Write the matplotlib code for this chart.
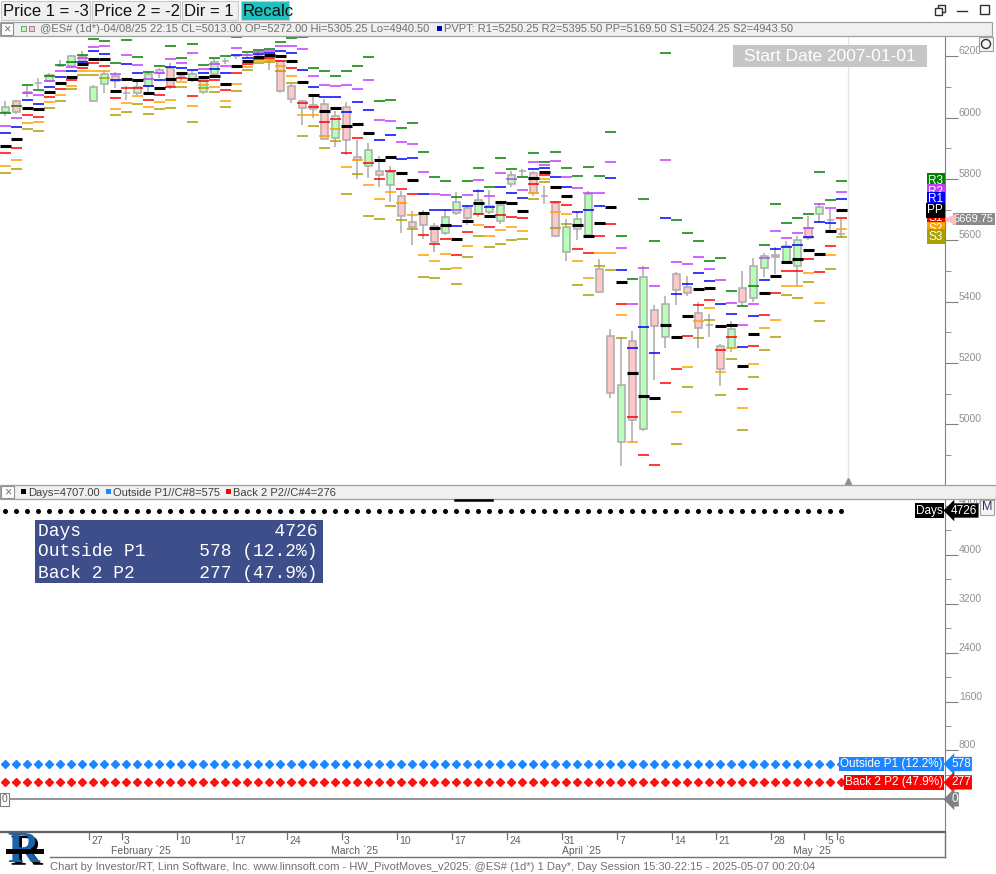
import numpy as np
import matplotlib
matplotlib.use("Agg")
import matplotlib.pyplot as plt
import matplotlib.transforms as mtrans
import matplotlib.patheffects as pe
from matplotlib.patches import Rectangle, Circle

plt.rcParams['font.family'] = ['Liberation Sans', 'DejaVu Sans']

W, H = 996, 874

# daily bars of @ES# (mid Jan 2025 .. 6 May 2025)
opens = [6020, 6053, 6082, 6113, 6120, 6170, 6170, 6201, 6053, 6111,
         6137, 6081, 6079, 6103, 6156, 6163, 6135, 6122, 6085, 6141,
         6185, 6200, 6203, 6201, 6200, 6185, 6102, 6053, 6040, 6046,
         5934, 6036, 5872, 5841, 5825, 5779, 5744, 5659, 5690, 5647,
         5624, 5689, 5706, 5687, 5693, 5663, 5784, 5825, 5819, 5743,
         5722, 5562, 5636, 5616, 5507, 5289, 4941, 5272, 4984, 5371,
         5283, 5491, 5446, 5364, 5323, 5254, 5247, 5445, 5413, 5510,
         5553, 5530, 5517, 5639, 5686, 5665, 5620]
highs = [6054, 6057, 6102, 6131, 6146, 6187, 6206, 6216, 6108, 6157,
         6148, 6102, 6120, 6151, 6163, 6178, 6146, 6152, 6133, 6192,
         6196, 6206, 6210, 6219, 6206, 6187, 6111, 6059, 6070, 6060,
         6022, 6050, 5927, 5919, 5875, 5842, 5761, 5696, 5699, 5656,
         5699, 5758, 5716, 5768, 5764, 5721, 5825, 5833, 5827, 5777,
         5729, 5670, 5697, 5760, 5538, 5312, 5283, 5305, 5516, 5388,
         5417, 5495, 5482, 5398, 5359, 5261, 5335, 5499, 5541, 5558,
         5578, 5597, 5615, 5678, 5723, 5702, 5670]
lows = [6006, 6013, 6068, 6092, 6116, 6165, 6167, 6176, 6051, 6079,
        6097, 6057, 6073, 6084, 6131, 6093, 6120, 6115, 6077, 6133,
        6176, 6192, 6196, 6187, 6157, 6079, 6048, 5976, 5999, 5927,
        5905, 5878, 5799, 5804, 5775, 5726, 5625, 5586, 5603, 5561,
        5616, 5684, 5651, 5675, 5686, 5654, 5775, 5811, 5744, 5717,
        5610, 5531, 5600, 5610, 5428, 5087, 4865, 4940, 4978, 5144,
        5249, 5390, 5418, 5249, 5285, 5126, 5236, 5385, 5397, 5480,
        5491, 5524, 5453, 5602, 5662, 5632, 5608]
closes = [6036, 6017, 6083, 6113, 6140, 6170, 6202, 6185, 6101, 6144,
          6121, 6081, 6100, 6141, 6147, 6103, 6135, 6144, 6124, 6183,
          6185, 6200, 6203, 6199, 6189, 6087, 6061, 6032, 6029, 5931,
          6007, 5926, 5863, 5896, 5812, 5823, 5679, 5643, 5651, 5596,
          5676, 5725, 5673, 5732, 5712, 5715, 5813, 5825, 5755, 5743,
          5613, 5644, 5670, 5751, 5430, 5103, 5127, 5013, 5481, 5319,
          5393, 5439, 5429, 5315, 5323, 5179, 5312, 5400, 5517, 5549,
          5546, 5582, 5601, 5608, 5709, 5665, 5620]

# two bars before the window, needed for the pivots of the first bars
pre_highs = [5933, 5961]
pre_lows = [5868, 5892]
pre_closes = [5926, 5940]

tick_bars = [8, 11, 16, 21, 26, 31, 36, 41, 46, 51, 56, 61, 65, 70, 73, 75, 76]
tick_labels = ['27', '3', '10', '17', '24', '3', '10', '17', '24', '31',
               '7', '14', '21', '28', '', '5', '6']
month_bars = [11, 31, 52, 73]
month_labels = ['February `25', 'March `25', 'April `25', 'May `25']

days_total = 4726
outside_p1 = 578
back2_p2 = 277
outside_pct = 12.2
back2_pct = 47.9
last_price = 5669.75

# ---------------------------------------------------------------
BAR_PX = 11.0
FIRST_PX = 5.3
AX_RIGHT = 945

fig = plt.figure(figsize=(W / 100, H / 100), dpi=100)


def px_axes(x0, y0, x1, y1, z=1):
    return fig.add_axes([x0 / W, 1 - y1 / H, (x1 - x0) / W, (y1 - y0) / H], zorder=z)


xlim = ((0 - FIRST_PX) / BAR_PX, (AX_RIGHT - FIRST_PX) / BAR_PX)
n = len(opens)
xs = np.arange(n)
o = np.array(opens, float)
hi = np.array(highs, float)
lo = np.array(lows, float)
c = np.array(closes, float)

gray_txt = '#909090'

# ------------------------- price panel -------------------------
ax = px_axes(0, 37, AX_RIGHT, 485)
ax.set_xlim(*xlim)
ax.set_ylim(4801.5, 6263.3)
for s in ['left', 'top', 'bottom']:
    ax.spines[s].set_visible(False)
ax.spines['right'].set_color('#808080')
ax.yaxis.tick_right()
ax.set_xticks([])
ax.set_yticks(np.arange(5000, 6201, 200))
ax.set_yticks(np.arange(4900, 6300, 100), minor=True)
ax.tick_params(axis='y', which='major', length=9, color='#808080', labelsize=7.5,
               labelcolor=gray_txt, pad=1)
ax.tick_params(axis='y', which='minor', length=4, color='#808080')
for lab in ax.get_yticklabels():
    lab.set_verticalalignment('bottom')

ax.axvline(n - 1 + 0.6, color='#e4e4e4', lw=1, zorder=0)
ax.plot([n - 1 + 0.6], [0.01], marker='^', ms=5, color='#909090',
        transform=mtrans.blended_transform_factory(ax.transData, ax.transAxes), clip_on=False)

# candles
up = c >= o
ax.vlines(xs, lo, hi, color='#ababab', lw=1.1, zorder=2)
ax.bar(xs, np.abs(c - o), bottom=np.minimum(o, c), width=0.68,
       color=np.where(up, '#b6ffb6', '#ffc8c8'), edgecolor='#ababab', lw=1.1, zorder=3)

# pivot levels (from the bar two places back, as the study draws them)
hh = np.array(pre_highs + highs, float)[:n]
ll = np.array(pre_lows + lows, float)[:n]
cc = np.array(pre_closes + closes, float)[:n]
pp = (hh + ll + cc) / 3
levels = {
    'R3': (hh + 2 * (pp - ll), '#008000'),
    'R2': (pp + (hh - ll), '#c33cff'),
    'R1': (2 * pp - ll, '#0000ff'),
    'S1': (2 * pp - hh, '#ff0000'),
    'S2': (pp - (hh - ll), '#ffa000'),
    'S3': (ll - 2 * (hh - pp), '#aaa000'),
    'PP': (pp, '#000000'),
}
for name, (vals, col) in levels.items():
    ax.hlines(vals, xs - 0.5, xs + 0.5, color=col,
              lw=2.2 if name == 'PP' else 1.1, zorder=4)

lbl_tr = mtrans.blended_transform_factory(ax.transAxes, ax.transData)
for k, name in enumerate(['R3', 'R2', 'R1', 'S1', 'S2', 'S3', 'PP']):
    vals, col = levels[name]
    ax.text(0.998, vals[-1], name, transform=lbl_tr, ha='right', va='center',
            color='white', fontsize=8.5, zorder=10 + k, clip_on=False,
            bbox=dict(boxstyle='square,pad=0.12', fc=col, ec='none'))

ax.plot([1.0], [last_price], marker='<', ms=7, color='#ffc0c0', transform=mtrans.offset_copy(
    lbl_tr, fig=fig, x=5, units='dots'), clip_on=False, zorder=10)
ax.text(1.0, last_price, f'{last_price:.2f}', transform=mtrans.offset_copy(lbl_tr, fig=fig, x=9, units='dots'),
        ha='left', va='center', color='white', fontsize=8, clip_on=False,
        bbox=dict(boxstyle='square,pad=0.1', fc='#8a8a8a', ec='none'))

# ------------------------- study panel -------------------------
ax2 = px_axes(0, 500, AX_RIGHT, 830)
ax2.set_xlim(*xlim)
ax2.set_ylim(-502, 4898)
for s in ['left', 'top', 'bottom']:
    ax2.spines[s].set_visible(False)
ax2.spines['right'].set_color('#808080')
ax2.yaxis.tick_right()
ax2.set_xticks([])
ax2.set_yticks(np.arange(800, 4801, 800))
ax2.set_yticks(np.arange(400, 4900, 400), minor=True)
ax2.tick_params(axis='y', which='major', length=9, color='#808080', labelsize=7.5,
                labelcolor=gray_txt, pad=1)
ax2.tick_params(axis='y', which='minor', length=4, color='#808080')
for lab in ax2.get_yticklabels():
    lab.set_verticalalignment('bottom')

ax2.axhline(0, color='#808080', lw=1.2)
ax2.plot(xs, [days_total] * n, 'o', ms=2.6, color='black', ls='none')
ax2.plot(xs, [outside_p1] * n, 'D', ms=3.6, color='#1c86ff', ls='none')
ax2.plot(xs, [back2_p2] * n, 'D', ms=3.6, color='#ff1010', ls='none')

tr2 = mtrans.blended_transform_factory(ax2.transAxes, ax2.transData)
for val, name, col in [(days_total, 'Days', '#000000'),
                       (outside_p1, f'Outside P1 ({outside_pct:.1f}%)', '#1c86ff'),
                       (back2_p2, f'Back 2 P2 ({back2_pct:.1f}%)', '#ff0000')]:
    ax2.text(0.998, val, name, transform=tr2, ha='right', va='center', color='white',
             fontsize=8.5, clip_on=False, bbox=dict(boxstyle='square,pad=0.1', fc=col, ec='none'))
    ax2.text(1.0, val, str(val), transform=mtrans.offset_copy(tr2, fig=fig, x=6, units='dots'),
             ha='left', va='center', color='white', fontsize=8.5, clip_on=False,
             bbox=dict(boxstyle='larrow,pad=0.1', fc=col, ec='none'))
ax2.text(1.0, 0, '0', transform=mtrans.offset_copy(tr2, fig=fig, x=6, units='dots'),
         ha='left', va='center', color='white', fontsize=8.5, clip_on=False,
         bbox=dict(boxstyle='larrow,pad=0.1', fc='#808080', ec='none'))
ax2.text(0.002, 0, '0', transform=tr2, ha='left', va='center', color='#606060', fontsize=7.5,
         bbox=dict(boxstyle='square,pad=0.15', fc='white', ec='#808080', lw=0.8))

# ------------------------- date axis -------------------------
ax3 = px_axes(0, 832, AX_RIGHT, 857, z=3)
ax3.set_xlim(*xlim)
ax3.set_ylim(0, 1)
ax3.axis('off')
ax3.add_patch(Rectangle((0, 0), 1, 1, transform=ax3.transAxes, fc='white', ec='none', zorder=0))
ax3.axhline(1, color='#606060', lw=1.6, clip_on=False)
ax3.plot([(50 - FIRST_PX) / BAR_PX, xlim[1]], [0, 0], color='#707070', lw=1, clip_on=False)
ax3.axvline(xlim[1], color='#707070', lw=1, clip_on=False)
tick_off = 4 / BAR_PX
for b, t in zip(tick_bars, tick_labels):
    ax3.plot([b - tick_off] * 2, [1, 0.72], color='#707070', lw=0.9)
    ax3.text(b - tick_off + 0.15, 0.63, t, ha='left', va='center', fontsize=7.5, color='#606060')
for b, t in zip(month_bars, month_labels):
    ax3.text(b - 15 / BAR_PX, 0.24, t, ha='left', va='center', fontsize=7.5, color='#606060')

# ------------------------- chrome on top -------------------------
ov = fig.add_axes([0, 0, 1, 1], zorder=20)
ov.set_xlim(0, W)
ov.set_ylim(H, 0)
ov.axis('off')
ov.patch.set_visible(False)

for x0, x1, label, fc in [(1, 90, 'Price 1 = -3', '#f0f0f0'), (92, 180, 'Price 2 = -2', '#f0f0f0'),
                          (182, 238, 'Dir = 1', '#f0f0f0'), (241, 289, 'Recalc', '#1fc0c0')]:
    ov.add_patch(Rectangle((x0, 1), x1 - x0, 19, fc=fc, ec='#c8c8c8', lw=0.8))
    ov.text(x0 + 2, 11, label, fontsize=12, ha='left', va='center', color='#101010')

# window buttons
ov.add_patch(Rectangle((938, 5), 7, 7, fc='none', ec='#303030', lw=1))
ov.add_patch(Rectangle((935, 8), 7, 7, fc='white', ec='#303030', lw=1))
ov.plot([957, 967], [11, 11], color='#303030', lw=1)
ov.add_patch(Rectangle((980, 5), 9, 9, fc='none', ec='#303030', lw=1))

# price header
ov.add_patch(Rectangle((0, 22), 992, 14, fc='#f0f0f0', ec='#a0a0a0', lw=0.9))
ov.add_patch(Rectangle((1, 23), 12, 12, fc='white', ec='#909090', lw=0.8))
ov.text(7, 29, '×', ha='center', va='center', fontsize=9, color='#707070')
ov.add_patch(Rectangle((21, 26), 5, 5, fc='#b6ffb6', ec='#808080', lw=0.6))
ov.add_patch(Rectangle((29, 26), 5, 5, fc='#ffc8c8', ec='#808080', lw=0.6))
ov.text(40, 29.5, '@ES# (1d*)-04/08/25 22:15 CL=5013.00 OP=5272.00 Hi=5305.25 Lo=4940.50',
        ha='left', va='center', fontsize=8, color='#707070')
ov.add_patch(Rectangle((437, 26), 5, 5, fc='#0000c0', ec='none'))
ov.text(444, 29.5, 'PVPT: R1=5250.25 R2=5395.50 PP=5169.50 S1=5024.25 S2=4943.50',
        ha='left', va='center', fontsize=8, color='#707070')
ov.add_patch(Rectangle((979, 37), 14, 14, fc='#f4f4f4', ec='#a0a0a0', lw=0.8))
ov.add_patch(Circle((986, 44), 4.5, fc='none', ec='#303030', lw=1))

ov.add_patch(Rectangle((733, 45), 194, 22, fc='#c6c6c6', ec='none'))
ov.text(830, 56.5, 'Start Date 2007-01-01', ha='center', va='center', fontsize=12.5, color='white')

# study header
ov.add_patch(Rectangle((0, 485), 996, 14, fc='#f0f0f0', ec='#a0a0a0', lw=0.9))
ov.add_patch(Rectangle((1, 486), 13, 12, fc='white', ec='#909090', lw=0.8))
ov.text(7.5, 492, '×', ha='center', va='center', fontsize=9, color='#707070')
for sx, col, txt, tx in [(21, 'black', 'Days=4707.00', 28), (106, '#1c86ff', 'Outside P1//C#8=575', 113),
                         (226, '#ff0000', 'Back 2 P2//C#4=276', 233)]:
    ov.add_patch(Rectangle((sx, 489), 5, 5, fc=col, ec='none'))
    ov.text(tx, 492.5, txt, ha='left', va='center', fontsize=8, color='#404040')
ov.plot([455, 492], [499.5, 499.5], color='black', lw=1.8)
ov.add_patch(Rectangle((980, 500), 14, 15, fc='#f4f4f4', ec='#a0a0a0', lw=0.8))
ov.text(987, 507.5, 'M', ha='center', va='center', fontsize=9, color='#303060')

# stats table
ov.add_patch(Rectangle((35, 520), 288, 63, fc='#3e4e8a', ec='none'))
rows = [('Days', f'{days_total}'),
        ('Outside P1', f'{outside_p1} ({outside_pct:.1f}%)'),
        ('Back 2 P2', f'{back2_p2} ({back2_pct:.1f}%)')]
for k, (a, b) in enumerate(rows):
    ov.text(38, 531 + 21 * k, a.ljust(26 - len(b)) + b, ha='left', va='center',
            family='Liberation Mono', fontsize=12.9, color='white')

# footer + logo
ov.text(50, 866.5, 'Chart by Investor/RT, Linn Software, Inc. www.linnsoft.com - HW_PivotMoves_v2025: '
        '@ES# (1d*) 1 Day*, Day Session 15:30-22:15 - 2025-05-07 00:20:04',
        ha='left', va='center', fontsize=8, color='#707070')
ov.text(24, 851, 'R', ha='center', va='center', fontsize=32, family='Liberation Serif',
        weight='bold', color='#1d62a6',
        path_effects=[pe.SimplePatchShadow(offset=(2, -2), shadow_rgbFace='black', alpha=1), pe.Normal()])
ov.add_patch(Rectangle((6, 849), 38, 5, fc='black', ec='none', zorder=5))

fig.savefig('out.png', dpi=100)
